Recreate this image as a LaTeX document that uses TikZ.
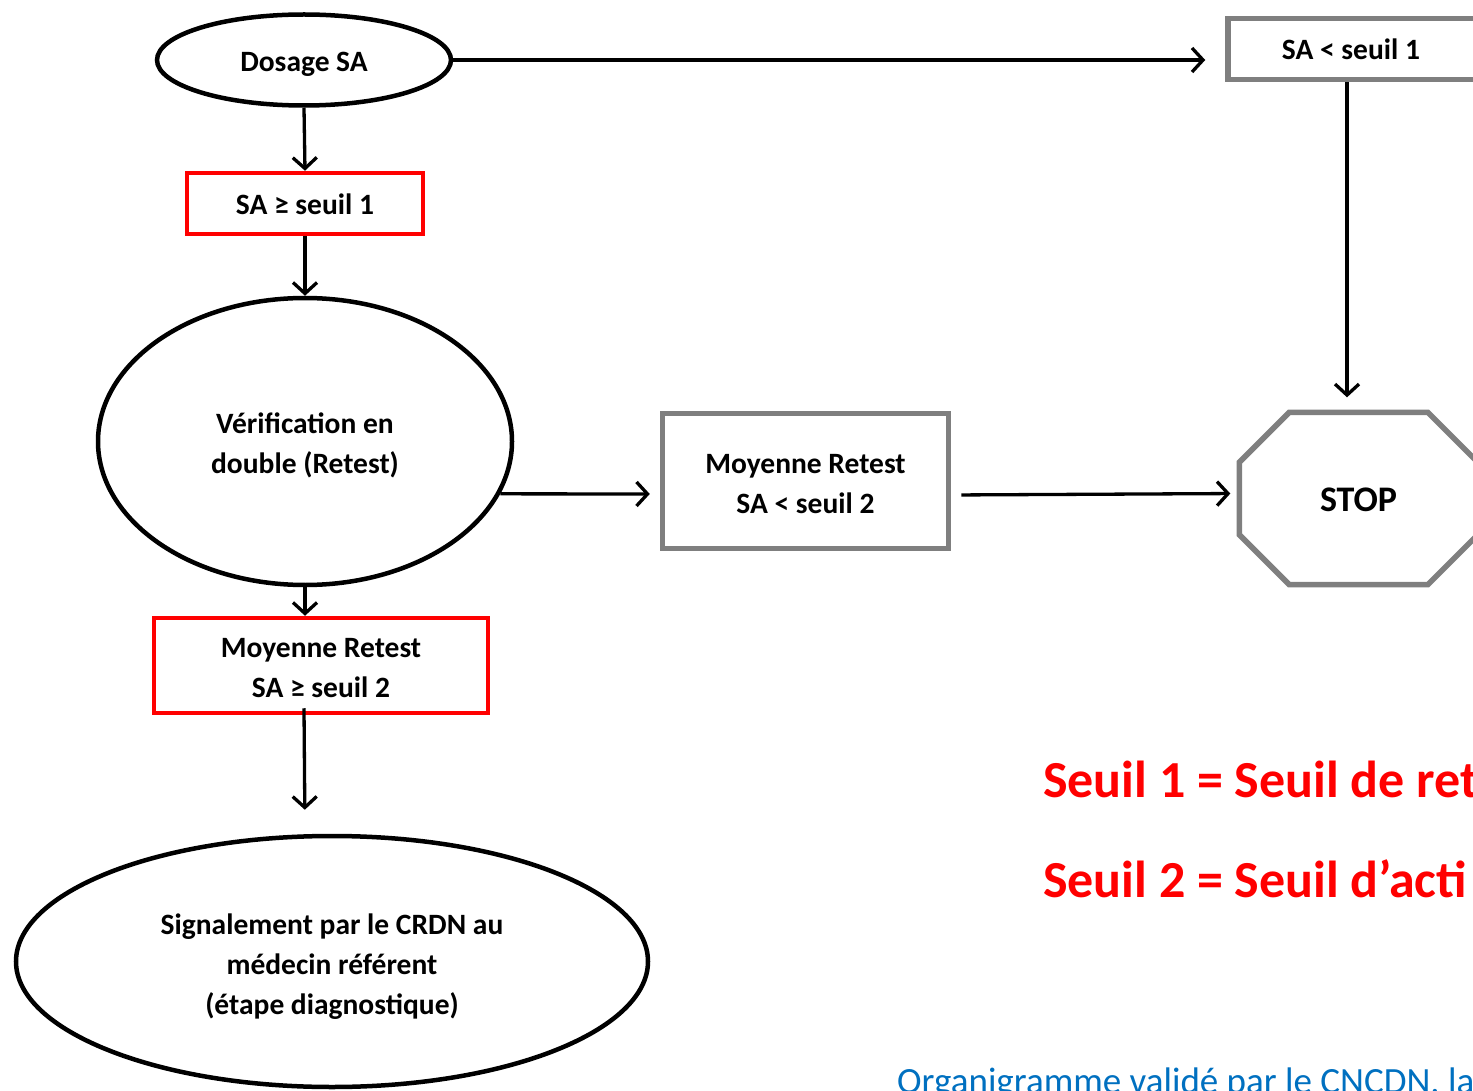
\documentclass[tikz,border=0pt]{standalone}
\usepackage{fontspec}
\setmainfont{Carlito}
\usetikzlibrary{shapes.geometric,arrows.meta}
\definecolor{gry}{HTML}{7F7F7F}
\definecolor{rd}{HTML}{FF0000}
\definecolor{bl}{HTML}{0070C0}
\tikzset{
  txt/.style={font=\bfseries\fontsize{29.5}{40}\selectfont, align=center, inner sep=0pt},
  ell/.style={ellipse, draw=black, line width=4.5pt, inner sep=0pt},
  redbox/.style={rectangle, draw=rd, line width=4.5pt, inner sep=0pt},
  greybox/.style={rectangle, draw=gry, line width=5.5pt, inner sep=0pt},
  arr/.style={line width=3.3pt, -{Straight Barb[length=11pt,width=24pt]}},
}
\begin{document}
\begin{tikzpicture}[x=1pt,y=-1pt]
\useasboundingbox (0,0) rectangle (1473,1091);
% shapes
\node[ell, minimum width=294pt, minimum height=91pt] (dosage) at (304,60) {};
\node[redbox, minimum width=236pt, minimum height=61pt] (sar1) at (305,203.5) {};
\node[ell, minimum width=414pt, minimum height=287pt] (verif) at (305,441.5) {};
\node[redbox, minimum width=334pt, minimum height=95pt] (mrr2) at (321,665.5) {};
\node[ell, minimum width=632pt, minimum height=251pt] (sig) at (332,961.5) {};
\node[greybox, minimum width=250pt, minimum height=61pt] (sa1) at (1353,49) {};
\node[greybox, minimum width=286pt, minimum height=135pt] (mr2) at (805.5,481) {};
\node[inner sep=0pt, minimum width=238pt, minimum height=172pt] (stop) at (1358.5,498.5) {};
\draw[gry, line width=5.5pt, line join=miter]
  ([xshift=50pt]stop.north west) -- ([xshift=-50pt]stop.north east)
  -- ([yshift=-50pt]stop.north east) -- ([yshift=50pt]stop.south east)
  -- ([xshift=-50pt]stop.south east) -- ([xshift=50pt]stop.south west)
  -- ([yshift=50pt]stop.south west) -- ([yshift=-50pt]stop.north west) -- cycle;
% texts
\node[txt] (dosage-t) at ([yshift=-4pt]dosage.center) {Dosage SA};
\node[txt] (sar1-t) at ([yshift=-1pt]sar1.center) {SA ≥ seuil 1};
\node[txt] (verif-t) at ([yshift=-4pt]verif.center) {Vérification en\\double (Retest)};
\node[txt] (mrr2-t) at ([yshift=-3pt]mrr2.center) {Moyenne Retest\\SA ≥ seuil 2};
\node[txt] (sig-t) at ([yshift=-5pt]sig.center) {Signalement par le CRDN au\\médecin référent\\(étape diagnostique)};
\node[txt] (sa1-t) at ([xshift=-2pt]sa1.center) {SA < seuil 1};
\node[txt] (mr2-t) at ([yshift=-3pt]mr2.center) {Moyenne Retest\\SA < seuil 2};
\node[txt, font=\bfseries\fontsize{36}{40}\selectfont] (stop-t) at ([yshift=-1pt]stop.center) {STOP};
% connectors
\draw[arr, shorten >=20pt] (dosage.east) -- (dosage.east -| sa1.west);
\draw[arr] (dosage.south) -- (sar1.north);
\draw[arr] (sar1.south) -- (verif.north);
\draw[arr, shorten >=15pt] ([xshift=-6pt]sa1.south) -- ([xshift=-11.5pt]stop.north);
\draw[arr, shorten >=10pt] (verif.-15.5) -- ([yshift=-13pt]mr2.west);
\draw[arr, shorten <=10pt, shorten >=9pt] ([yshift=-14pt]mr2.east) -- ([yshift=5pt]stop.west);
\draw[arr] (verif.south) -- (mrr2.north -| verif.south);
\draw[arr, shorten >=24pt] ([xshift=-17pt,yshift=7pt]mrr2.south) -- ([xshift=-27pt]sig.north);
% legend
\node[anchor=base west, inner sep=0pt, text=rd, font=\bfseries\fontsize{52}{60}\selectfont] (l1) at (1043,797) {Seuil 1 = Seuil de ret};
\node[anchor=base west, inner sep=0pt, text=rd, font=\bfseries\fontsize{52}{60}\selectfont] (l2) at (1043,897) {Seuil 2 = Seuil d’acti};
\node[anchor=base west, inner sep=0pt, text=bl, font=\fontsize{37}{40}\selectfont] (note) at (897,1093) {Organigramme validé par le CNCDN, la};
\end{tikzpicture}
\end{document}
